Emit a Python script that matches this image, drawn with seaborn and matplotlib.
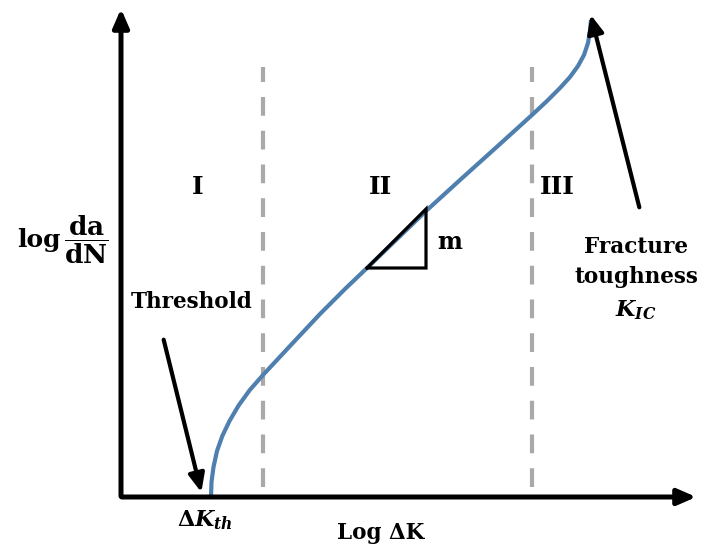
import numpy as np
import pandas as pd
import matplotlib
matplotlib.use('Agg')
import matplotlib.pyplot as plt
import seaborn as sns

# crack growth curve, log dK (x) vs log da/dN (y), schematic units
curve_x = [90, 90.5, 92.5, 96, 101.3, 108.5, 117.6, 128.8, 142, 169, 199, 224, 246,
           274, 305, 339, 379, 411, 426, 439, 449, 457, 463, 467, 469, 470]
curve_y = [0, 15, 30, 46, 61, 76, 91.5, 107, 122, 151, 183, 208, 229,
           256, 286, 317, 353, 382, 396, 409, 420, 431, 442, 454, 466, 477]

# region boundaries and labels
region_bounds = [142, 411]
region_names = ['I', 'II', 'III']
region_label_x = [77, 260, 436]

# slope triangle corners
tri_x = [246, 305, 305, 246]
tri_y = [229, 229, 288, 229]

sns.set_style('white')
plt.rcParams['font.family'] = ['DejaVu Serif']
plt.rcParams['font.weight'] = 'bold'
plt.rcParams['text.color'] = 'black'
plt.rcParams['mathtext.fontset'] = 'custom'
plt.rcParams['mathtext.rm'] = 'DejaVu Serif:bold'
plt.rcParams['mathtext.bf'] = 'DejaVu Serif:bold'
plt.rcParams['mathtext.it'] = 'DejaVu Serif:italic:bold'

fig = plt.figure(figsize=(7.1, 5.56), dpi=100)
ax = fig.add_axes([0, 0, 1, 1])
ax.set_xlim(-121, 589)
ax.set_ylim(-59, 497)
ax.axis('off')

head = '-|>,head_length=0.55,head_width=0.24'

# axes arrows
ax.annotate('', xy=(0, 491), xytext=(0, -2),
            arrowprops=dict(arrowstyle=head, lw=3.6, color='black', mutation_scale=20))
ax.annotate('', xy=(578, 0), xytext=(-2, 0),
            arrowprops=dict(arrowstyle=head, lw=3.6, color='black', mutation_scale=20))

# dashed region boundaries
for xb in region_bounds:
    ax.plot([xb, xb], [10, 430], color='#a9a9a9', lw=3, dashes=(4.5, 3.6))

df = pd.DataFrame({'x': curve_x, 'y': curve_y})
sns.lineplot(data=df, x='x', y='y', sort=False, color='#4e7fae', lw=3, ax=ax,
             solid_joinstyle='round', solid_capstyle='butt')

ax.plot(tri_x, tri_y, color='black', lw=2.3, solid_joinstyle='miter')
ax.text(316, 255, 'm', fontsize=17, ha='left', va='center')

for name, lx in zip(region_names, region_label_x):
    ax.text(lx, 310, name, fontsize=18, ha='center', va='center')

# y label
ax.text(-104, 257, 'log', fontsize=18, ha='left', va='center')
ax.text(-35, 257, r'$\dfrac{\mathrm{da}}{\mathrm{dN}}$', fontsize=19, ha='center', va='center')

# annotations
ax.text(71, 195, 'Threshold', fontsize=15.5, ha='center', va='center')
ax.annotate('', xy=(81, 2), xytext=(42, 160),
            arrowprops=dict(arrowstyle=head, lw=3, color='black', mutation_scale=20))
ax.annotate('', xy=(469, 485), xytext=(519, 287),
            arrowprops=dict(arrowstyle=head, lw=3, color='black', mutation_scale=20))
ax.text(515, 250, 'Fracture', fontsize=15.5, ha='center', va='center')
ax.text(515, 220, 'toughness', fontsize=15.5, ha='center', va='center')
ax.text(515, 187, r'$K_{IC}$', fontsize=16, ha='center', va='center')

ax.text(84, -23, r'$\Delta K_{th}$', fontsize=16, ha='center', va='center')
ax.text(260, -36, 'Log ΔK', fontsize=15.5, ha='center', va='center')

fig.savefig('out.png', dpi=100)
